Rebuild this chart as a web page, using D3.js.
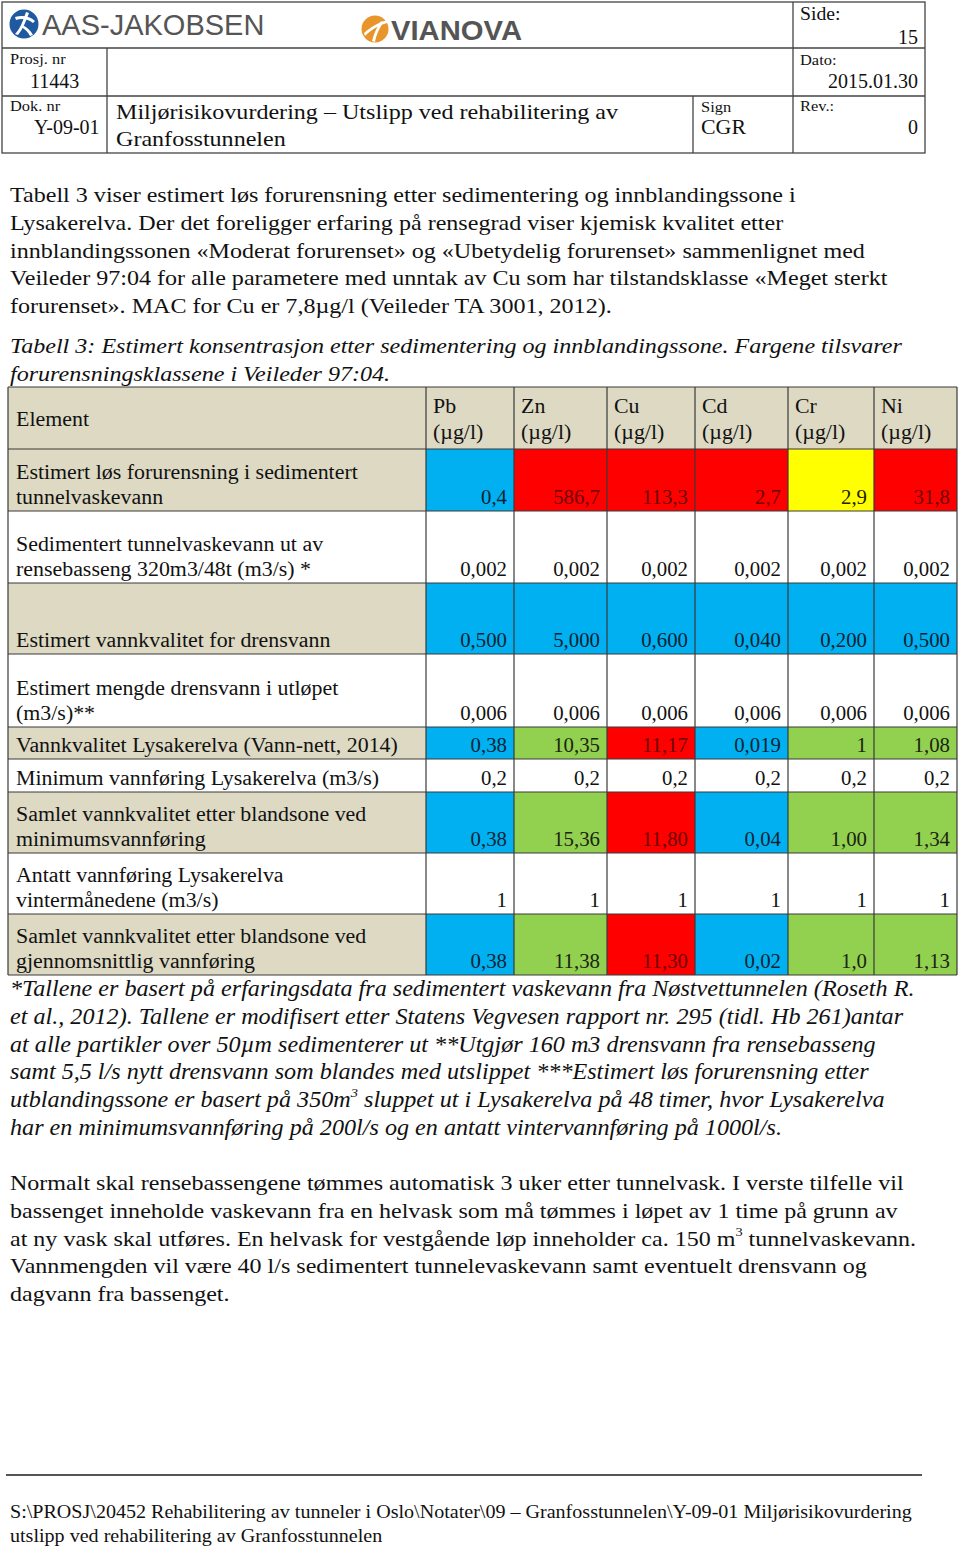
<!DOCTYPE html>
<html>
<head>
<meta charset="utf-8">
<script src="https://cdn.jsdelivr.net/npm/d3@7"></script>
<style>
  body { margin: 0; background: #fff; }
  svg text { font-family: "Liberation Serif", "DejaVu Serif", serif; fill: #111; }
</style>
</head>
<body>
<div id="page"></div>
<script>
// ---- data ----
var metals = ["Pb", "Zn", "Cu", "Cd", "Cr", "Ni"];
var unitLabel = "(µg/l)";
var elementHeader = "Element";

var rowLabels = [
  ["Estimert løs forurensning i sedimentert", "tunnelvaskevann"],
  ["Sedimentert tunnelvaskevann ut av", "rensebasseng 320m3/48t (m3/s) *"],
  ["Estimert vannkvalitet for drensvann"],
  ["Estimert mengde drensvann i utløpet", "(m3/s)**"],
  ["Vannkvalitet Lysakerelva (Vann-nett, 2014)"],
  ["Minimum vannføring Lysakerelva (m3/s)"],
  ["Samlet vannkvalitet etter blandsone  ved", "minimumsvannføring"],
  ["Antatt vannføring Lysakerelva", "vintermånedene (m3/s)"],
  ["Samlet vannkvalitet etter blandsone ved", "gjennomsnittlig vannføring"]
];

var rowValues = [
  ["0,4", "586,7", "113,3", "2,7", "2,9", "31,8"],
  ["0,002", "0,002", "0,002", "0,002", "0,002", "0,002"],
  ["0,500", "5,000", "0,600", "0,040", "0,200", "0,500"],
  ["0,006", "0,006", "0,006", "0,006", "0,006", "0,006"],
  ["0,38", "10,35", "11,17", "0,019", "1", "1,08"],
  ["0,2", "0,2", "0,2", "0,2", "0,2", "0,2"],
  ["0,38", "15,36", "11,80", "0,04", "1,00", "1,34"],
  ["1", "1", "1", "1", "1", "1"],
  ["0,38", "11,38", "11,30", "0,02", "1,0", "1,13"]
];

// tilstandsklasse per cell: B blue, G green, Y yellow, R red, W none
var rowClasses = [
  ["B", "R", "R", "R", "Y", "R"],
  ["W", "W", "W", "W", "W", "W"],
  ["B", "B", "B", "B", "B", "B"],
  ["W", "W", "W", "W", "W", "W"],
  ["B", "G", "R", "B", "G", "G"],
  ["W", "W", "W", "W", "W", "W"],
  ["B", "G", "R", "B", "G", "G"],
  ["W", "W", "W", "W", "W", "W"],
  ["B", "G", "R", "B", "G", "G"]
];
var labelShaded = [true, false, true, false, true, false, true, false, true];

var introLines = [
  "Tabell 3 viser estimert løs forurensning etter sedimentering og innblandingssone i",
  "Lysakerelva. Der det foreligger erfaring på rensegrad viser kjemisk kvalitet etter",
  "innblandingssonen «Moderat forurenset» og «Ubetydelig forurenset» sammenlignet med",
  "Veileder 97:04 for alle parametere med unntak av Cu som har tilstandsklasse «Meget sterkt",
  "forurenset». MAC for Cu er 7,8µg/l (Veileder TA 3001, 2012)."
];
var captionLines = [
  "Tabell 3: Estimert konsentrasjon etter sedimentering og innblandingssone. Fargene tilsvarer",
  "forurensningsklassene i Veileder 97:04."
];
var footnoteLines = [
  "*Tallene er basert på erfaringsdata fra sedimentert vaskevann fra Nøstvettunnelen (Roseth R.",
  "et al., 2012). Tallene er modifisert etter Statens Vegvesen rapport nr. 295 (tidl. Hb 261)antar",
  "at alle partikler over 50µm sedimenterer ut **Utgjør 160 m3 drensvann fra rensebasseng",
  "samt 5,5 l/s nytt drensvann som blandes med utslippet ***Estimert løs forurensning etter",
  "utblandingssone er basert på 350m^3 sluppet ut i Lysakerelva på 48 timer, hvor Lysakerelva",
  "har en minimumsvannføring på 200l/s og en antatt vintervannføring på 1000l/s."
];
var outroLines = [
  "Normalt skal rensebassengene tømmes automatisk 3 uker etter tunnelvask. I verste tilfelle vil",
  "bassenget inneholde vaskevann fra en helvask som må tømmes i løpet av 1 time på grunn av",
  "at ny vask skal utføres. En helvask for vestgående løp inneholder ca. 150 m^3 tunnelvaskevann.",
  "Vannmengden vil være 40 l/s sedimentert tunnelevaskevann samt eventuelt drensvann og",
  "dagvann fra bassenget."
];
var footerLines = [
  "S:\\PROSJ\\20452 Rehabilitering av tunneler i Oslo\\Notater\\09 – Granfosstunnelen\\Y-09-01 Miljørisikovurdering",
  "utslipp ved rehabilitering av Granfosstunnelen"
];

var docTitle = ["Miljørisikovurdering – Utslipp ved rehabilitering av", "Granfosstunnelen"];
var docMeta = { prosj: "11443", dok: "Y-09-01", sign: "CGR", side: "15", dato: "2015.01.30", rev: "0" };

// ---- layout ----
var W = 960, H = 1546;
var classColor = { B: "#00b0f0", G: "#92d050", Y: "#ffff00", R: "#ff0000", W: "#ffffff" };
var classText = { B: "#0b2333", G: "#1b2410", Y: "#222200", R: "#6e0000", W: "#111" };
var beige = "#ddd9c3";
var lineCol = "#3a3a3a";
var wide = 1.095;   // the document font runs a little wider than Liberation Serif

var tableLeft = 8, tableRight = 957;
var colEdges = [426, 514, 607, 695, 788, 874, 957];
var rowEdges = [387, 449, 511, 583, 654, 727, 759, 792, 853, 914, 975];

var svg = d3.select("#page").append("svg")
    .attr("width", W)
    .attr("height", H);

svg.append("rect").attr("width", W).attr("height", H).attr("fill", "#fff");

// text placed with a horizontal stretch
function label(parent, x, y, size, sx) {
  return parent.append("text")
    .attr("transform", "translate(" + x + "," + y + ") scale(" + (sx || 1) + ",1)")
    .attr("font-size", size);
}

// helper: text with ^n superscript
function richText(sel, str, size) {
  var parts = str.split(/\^(\d)/);
  parts.forEach(function(p, i) {
    if (!p) return;
    var t = sel.append("tspan").text(p);
    if (i % 2 === 1) {
      t.attr("font-size", size * 0.6).attr("dy", -size * 0.45);
    } else if (i > 0) {
      t.attr("dy", size * 0.45);
    }
  });
}

function block(lines, x, y0, lh, size, italic, sx) {
  var g = svg.append("g");
  lines.forEach(function(l, i) {
    var t = label(g, x, y0 + i * lh, size, sx)
      .attr("font-style", italic ? "italic" : null);
    richText(t, l, size);
  });
  return g;
}

// ---- header box ----
var hb = svg.append("g");
var hx = d3.scaleOrdinal().domain(["left", "mid", "sign", "right", "end"]).range([2, 107, 693, 793, 925]);
var hy = d3.scaleOrdinal().domain(["top", "r2", "r3", "bottom"]).range([2, 48, 96, 153]);

hb.append("rect").attr("x", hx("left")).attr("y", hy("top"))
  .attr("width", hx("end") - hx("left")).attr("height", hy("bottom") - hy("top"))
  .attr("fill", "none").attr("stroke", "#444").attr("stroke-width", 1.3);
[["left", "end", "r2"], ["left", "end", "r3"]].forEach(function(s) {
  hb.append("line").attr("x1", hx(s[0])).attr("x2", hx(s[1])).attr("y1", hy(s[2])).attr("y2", hy(s[2]))
    .attr("stroke", "#444").attr("stroke-width", 1.3);
});
[["mid", "r2", "bottom"], ["sign", "r3", "bottom"], ["right", "top", "bottom"]].forEach(function(s) {
  hb.append("line").attr("x1", hx(s[0])).attr("x2", hx(s[0])).attr("y1", hy(s[1])).attr("y2", hy(s[2]))
    .attr("stroke", "#444").attr("stroke-width", 1.3);
});

// logos
var aj = hb.append("g").attr("transform", "translate(24,24)");
aj.append("circle").attr("r", 14.5).attr("fill", "#1f5aa0");
aj.append("path").attr("d", "M-9,-7 C-2,-9 6,-8 11,-3 L9,-1 C4,-5 -2,-6 -8,-4 Z").attr("fill", "#fff");
aj.append("path").attr("d", "M2,-12 C-1,-3 -4,5 -9,10 L-6,11 C-1,5 2,-3 5,-11 Z").attr("fill", "#fff");
aj.append("path").attr("d", "M-2,1 C3,3 7,7 9,11 L6,12 C4,8 1,5 -3,3 Z").attr("fill", "#fff");
hb.append("text").attr("x", 42).attr("y", 35)
  .style("font-family", "'Liberation Sans', Arial, sans-serif")
  .attr("font-size", 29).style("fill", "#555").text("AAS-JAKOBSEN");

var vn = hb.append("g").attr("transform", "translate(375,29)");
vn.append("circle").attr("r", 13.5).attr("fill", "#e8952b");
vn.append("path").attr("d", "M-11,4 C-4,-2 4,-7 12,-9 L12,-6 C4,-4 -4,1 -10,7 Z").attr("fill", "#fff");
vn.append("path").attr("d", "M-3,12 C-1,4 2,-2 6,-8 L8,-6 C4,0 1,6 0,13 Z").attr("fill", "#fff");
hb.append("text").attr("x", 391).attr("y", 40)
  .style("font-family", "'Liberation Sans', Arial, sans-serif")
  .attr("font-size", 27).attr("font-weight", "bold").style("fill", "#555")
  .attr("textLength", 131).attr("lengthAdjust", "spacingAndGlyphs").text("VIANOVA");

function small(x, y, s) { label(hb, x, y, 15, wide).text(s); }
function big(x, y, s, anchor, size, sx) {
  label(hb, x, y, size || 20, sx).attr("text-anchor", anchor || "start").text(s);
}
small(10, 64, "Prosj. nr");
big(30, 88, docMeta.prosj);
small(10, 111, "Dok. nr");
big(34, 134, docMeta.dok);
big(116, 119, docTitle[0], "start", 22, wide);
big(116, 146, docTitle[1], "start", 22, wide);
small(701, 112, "Sign");
big(701, 134, docMeta.sign, "start", 20, wide);
big(800, 20, "Side:", "start", 18, wide);
big(918, 44, docMeta.side, "end");
small(800, 65, "Dato:");
big(918, 88, docMeta.dato, "end");
small(800, 111, "Rev.:");
big(918, 134, docMeta.rev, "end");

// ---- intro text and caption ----
block(introLines, 10, 202, 27.8, 22, false, wide);
block(captionLines, 10, 353, 27.8, 22, true, wide);

// ---- table ----
var x = d3.scaleOrdinal().domain(metals).range(colEdges.slice(0, 6));
var xEnd = d3.scaleOrdinal().domain(metals).range(colEdges.slice(1));
var y = d3.scaleOrdinal().domain(d3.range(-1, rowLabels.length)).range(rowEdges.slice(0, -1));
var yEnd = d3.scaleOrdinal().domain(d3.range(-1, rowLabels.length)).range(rowEdges.slice(1));

var tbl = svg.append("g");

// header row
tbl.append("rect").attr("x", tableLeft).attr("y", y(-1))
  .attr("width", tableRight - tableLeft).attr("height", yEnd(-1) - y(-1)).attr("fill", beige);
label(tbl, 16, 426, 20, wide).text(elementHeader);
metals.forEach(function(m) {
  label(tbl, x(m) + 7, 413, 20, wide).text(m);
  label(tbl, x(m) + 7, 439, 20, wide).text(unitLabel);
});

// body rows
var rows = tbl.selectAll("g.row")
  .data(rowLabels.map(function(l, i) {
    return { i: i, label: l, values: rowValues[i], classes: rowClasses[i], shaded: labelShaded[i] };
  }))
  .enter().append("g").attr("class", "row");

rows.append("rect")
  .attr("x", tableLeft)
  .attr("y", function(d) { return y(d.i); })
  .attr("width", colEdges[0] - tableLeft)
  .attr("height", function(d) { return yEnd(d.i) - y(d.i); })
  .attr("fill", function(d) { return d.shaded ? beige : "#fff"; });

rows.each(function(d) {
  var g = d3.select(this);
  var n = d.label.length;
  d.label.forEach(function(l, k) {
    label(g, 16, yEnd(d.i) - 7 - (n - 1 - k) * 25, 20, wide).text(l);
  });
  metals.forEach(function(m, j) {
    var c = d.classes[j];
    g.append("rect")
      .attr("x", x(m)).attr("y", y(d.i))
      .attr("width", xEnd(m) - x(m)).attr("height", yEnd(d.i) - y(d.i))
      .attr("fill", classColor[c]);
    label(g, xEnd(m) - 7, yEnd(d.i) - 7, 20, 1.04)
      .attr("text-anchor", "end")
      .style("fill", classText[c])
      .text(d.values[j]);
  });
});

// grid lines
rowEdges.forEach(function(e) {
  tbl.append("line").attr("x1", tableLeft).attr("x2", tableRight).attr("y1", e).attr("y2", e)
    .attr("stroke", lineCol).attr("stroke-width", 1.2);
});
[tableLeft].concat(colEdges).forEach(function(e) {
  tbl.append("line").attr("x1", e).attr("x2", e).attr("y1", rowEdges[0]).attr("y2", rowEdges[rowEdges.length - 1])
    .attr("stroke", lineCol).attr("stroke-width", 1.2);
});

// ---- footnotes and following text ----
block(footnoteLines, 10, 996, 27.8, 22.5, true, 1.074);
block(outroLines, 10, 1190, 27.8, 22, false, 1.093);

// ---- footer ----
svg.append("line").attr("x1", 6).attr("x2", 922).attr("y1", 1475).attr("y2", 1475)
  .attr("stroke", "#555").attr("stroke-width", 2);
block(footerLines, 10, 1518, 23.5, 19, false, 1.057);
</script>
</body>
</html>
